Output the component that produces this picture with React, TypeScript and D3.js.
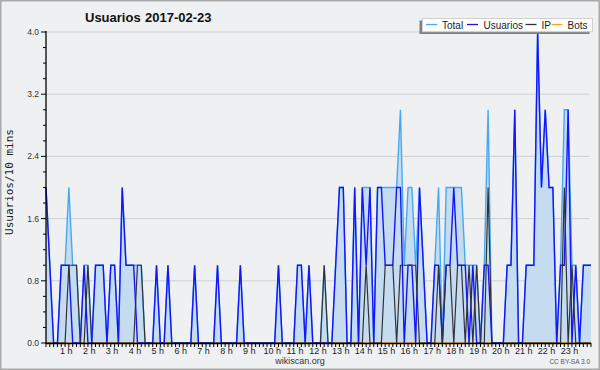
import React from 'react';
import * as d3 from 'd3';

const TOTAL = [
  2,1,0,0,1,1,2,1,1,0,1,1,
  0,1,1,1,0,1,1,0,2,1,1,1,
  1,1,0,0,0,1,0,0,1,0,0,0,
  0,0,0,1,0,0,0,0,0,1,0,0,
  0,0,0,1,0,0,0,0,0,0,0,0,
  0,1,0,0,0,0,1,1,0,1,0,0,
  0,1,0,0,1,2,2,0,0,2,0,2,
  2,2,0,2,2,2,2,2,2,3,1,2,
  2,1,2,1,0,0,1,2,0,2,2,2,
  2,2,1,1,1,1,0,1,3,0,0,0,
  0,1,1,3,0,0,1,1,1,4,2,3,
  2,2,0,1,3,3,1,1,0,1,1,1,
];
const USUARIOS = [
  2,1,0,0,1,1,1,0,0,0,1,0,
  0,1,1,1,0,1,1,0,2,1,1,1,
  0,0,0,0,0,1,0,0,1,0,0,0,
  0,0,0,1,0,0,0,0,0,1,0,0,
  0,0,0,1,0,0,0,0,0,0,0,0,
  0,1,0,0,0,0,1,1,0,1,0,0,
  0,0,0,0,1,2,2,0,0,2,0,2,
  1,2,0,2,2,1,1,1,2,2,0,1,
  1,0,2,1,0,0,1,1,0,1,1,2,
  1,1,1,0,1,0,0,1,1,0,0,0,
  0,1,1,3,0,0,1,1,1,4,2,3,
  2,2,0,1,1,3,0,1,0,1,1,1,
];
const IP = [
  0,0,0,0,0,0,1,1,1,0,0,1,
  0,0,0,0,0,0,0,0,0,0,0,0,
  1,1,0,0,0,0,0,0,0,0,0,0,
  0,0,0,0,0,0,0,0,0,0,0,0,
  0,0,0,0,0,0,0,0,0,0,0,0,
  0,0,0,0,0,0,0,0,0,0,0,0,
  0,1,0,0,0,0,0,0,0,0,0,0,
  1,0,0,0,0,1,1,1,0,1,1,1,
  1,1,0,0,0,0,0,1,0,1,1,0,
  1,1,0,1,0,1,0,0,2,0,0,0,
  0,0,0,0,0,0,0,0,0,0,0,0,
  0,0,0,0,2,0,1,0,0,0,0,0,
];
const BOTS = [
  0,0,0,0,0,0,0,0,0,0,0,0,
  0,0,0,0,0,0,0,0,0,0,0,0,
  0,0,0,0,0,0,0,0,0,0,0,0,
  0,0,0,0,0,0,0,0,0,0,0,0,
  0,0,0,0,0,0,0,0,0,0,0,0,
  0,0,0,0,0,0,0,0,0,0,0,0,
  0,0,0,0,0,0,0,0,0,0,0,0,
  0,0,0,0,0,0,0,0,0,0,0,0,
  0,0,0,0,0,0,0,0,0,0,0,0,
  0,0,0,0,0,0,0,0,0,0,0,0,
  0,0,0,0,0,0,0,0,0,0,0,0,
  0,0,0,0,0,0,0,0,0,0,0,0,
];
const HOUR_LABELS = [
  '1 h','2 h','3 h','4 h','5 h','6 h','7 h','8 h','9 h','10 h','11 h','12 h',
  '13 h','14 h','15 h','16 h','17 h','18 h','19 h','20 h','21 h','22 h','23 h',
];
const Y_TICKS = [0, 0.8, 1.6, 2.4, 3.2, 4.0];
const Y_MINOR = [0.2,0.4,0.6,1.0,1.2,1.4,1.8,2.0,2.2,2.6,2.8,3.0,3.4,3.6,3.8];
const LEGEND = [
  { name: 'Total', color: '#47a9f0', lx: 426, tx: 442 },
  { name: 'Usuarios', color: '#1414ff', lx: 467, tx: 483.5 },
  { name: 'IP', color: '#333333', lx: 525.5, tx: 541.5 },
  { name: 'Bots', color: '#ffa21a', lx: 551.5, tx: 567.5 },
];

export default function App() {
  const W = 600, H = 370;
  const x = d3.scaleLinear().domain([0, TOTAL.length - 1]).range([46, 591]);
  const y = d3.scaleLinear().domain([0, 4]).range([343, 32]);
  const line = (arr: number[]) =>
    d3.line<number>().x((_, i) => x(i)).y((d) => y(d))(arr) || '';
  const area = d3.area<number>().x((_, i) => x(i)).y0(y(0)).y1((d) => y(d))(TOTAL) || '';
  const font = '"Liberation Sans", Arial, sans-serif';
  const idx = d3.range(TOTAL.length);

  return (
    <div style={{ position: 'absolute', left: 0, top: 0 }}>
      <svg width={W} height={H} style={{ display: 'block' }}>
        <rect x={0.75} y={0.75} width={W - 1.5} height={H - 1.5} fill="#eff0f2" stroke="#a9a9a9" strokeWidth={1.5} />
        {/* grid */}
        {Y_TICKS.filter((t) => t > 0).map((t) => (
          <line key={t} x1={46} x2={590} y1={y(t)} y2={y(t)} stroke="#cfd0d2" strokeWidth={1} />
        ))}
        {/* area */}
        <path d={area} fill="#c5dcf0" />
        <path d={line(BOTS)} fill="none" stroke="#ffa21a" strokeWidth={1.3} />
        <path d={line(TOTAL)} fill="none" stroke="#47a9f0" strokeWidth={1.4} />
        <path d={line(USUARIOS)} fill="none" stroke="#1414ff" strokeWidth={1.4} />
        <path d={line(IP)} fill="none" stroke="#333333" strokeWidth={1.2} />
        {/* y axis */}
        <line x1={46} x2={46} y1={31} y2={344} stroke="#000" strokeWidth={1.3} />
        {Y_TICKS.map((t) => (
          <g key={'yt' + t}>
            <line x1={41} x2={46} y1={y(t)} y2={y(t)} stroke="#000" strokeWidth={1} />
            <text x={39} y={y(t) + 3} fontSize={8.5} fontFamily={font} fill="#333" textAnchor="end">
              {t.toFixed(1)}
            </text>
          </g>
        ))}
        {Y_MINOR.map((t) => (
          <line key={'ym' + t} x1={43} x2={46} y1={y(t)} y2={y(t)} stroke="#000" strokeWidth={1} />
        ))}
        {/* x axis */}
        <line x1={46} x2={591} y1={343.5} y2={343.5} stroke="#000" strokeWidth={1.7} />
        {idx.map((i) => (
          <line key={'xt' + i} x1={x(i)} x2={x(i)} y1={343} y2={347} stroke="#000" strokeWidth={1} />
        ))}
        {HOUR_LABELS.map((lab, k) => (
          <text key={lab} x={x((k + 1) * 6) - 2.5} y={354} fontSize={9} fontFamily={font} fill="#222" textAnchor="middle">
            {lab}
          </text>
        ))}
        {/* y title */}
        <text
          transform="translate(13,182) rotate(-90)"
          fontSize={11}
          fontFamily='"DejaVu Sans Mono", monospace'
          fill="#222"
          textAnchor="middle"
        >
          Usuarios/10 mins
        </text>
        {/* title */}
        <text x={85} y={22} fontSize={13} fontWeight="bold" fontFamily={font} fill="#111">
          <tspan>Usuarios</tspan>
          <tspan x={145}>2017-02-23</tspan>
        </text>
        {/* legend */}
        <rect x={419.5} y={20.5} width={170} height={13.5} fill="#808080" />
        <rect x={422.5} y={18.5} width={170} height={13.2} fill="#ffffff" stroke="#d0d0d0" strokeWidth={1} />
        {LEGEND.map((l) => (
          <g key={l.name}>
            <line x1={l.lx} x2={l.lx + 11} y1={24.5} y2={24.5} stroke={l.color} strokeWidth={1.3} />
            <text x={l.tx} y={28.5} fontSize={10} fontFamily={font} fill="#222">
              {l.name}
            </text>
          </g>
        ))}
        {/* footer */}
        <text x={300} y={364} fontSize={9} fontFamily={font} fill="#333" textAnchor="middle">
          wikiscan.org
        </text>
        <text x={590} y={364} fontSize={6.5} fontFamily={font} fill="#555" textAnchor="end">
          CC BY-SA 3.0
        </text>
      </svg>
    </div>
  );
}
